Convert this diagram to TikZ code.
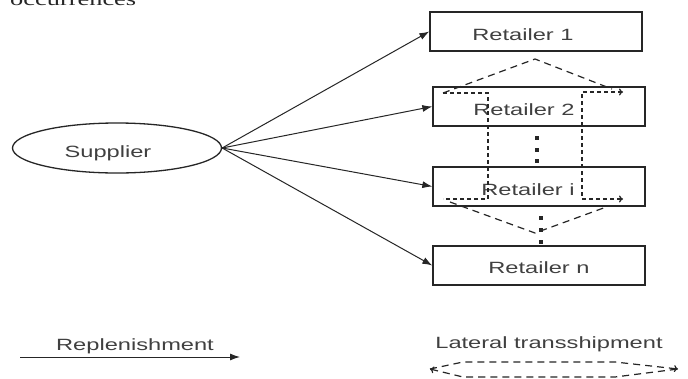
\documentclass[tikz,border=0pt]{standalone}
\usepackage{fontspec}
\setmainfont{Liberation Sans}
\newfontfamily\labfont[FakeStretch=1.45]{Liberation Sans}
\newfontfamily\serfont[FakeStretch=1.45]{Liberation Serif}
\usetikzlibrary{shapes.geometric,arrows.meta}
\definecolor{ink}{HTML}{262626}
\definecolor{txt}{HTML}{404040}
\begin{document}
\begin{tikzpicture}[x=1pt,y=-1pt,
  lbl/.style={font=\labfont\fontsize{16.3}{18}\selectfont, text=txt, inner sep=0pt, anchor=base},
  box/.style={draw=ink, line width=1.3pt, rectangle, inner sep=0pt, minimum width=212pt, minimum height=39pt},
  repl/.style={draw=ink, line width=1pt, -{Latex[length=10pt,width=7pt]}},
  lat/.style={draw=ink, line width=1.2pt, dash pattern=on 7pt off 5pt},
  vlat/.style={draw=ink, line width=1.3pt, dash pattern=on 4pt off 3pt},
  tipR/.style={-{To[length=4pt,width=7pt]}},
  tipL/.style={{To[length=4pt,width=7pt]}-},
  tipLR/.style={{To[length=4pt,width=7pt]}-{To[length=4pt,width=7pt]}},
  dotsq/.style={fill=ink, rectangle, minimum width=4pt, minimum height=3.5pt, inner sep=0pt}]
\useasboundingbox (0,0) rectangle (688,378);
\fill[white] (0,0) rectangle (688,378);
\clip (0,0) rectangle (688,378);

% cut-off text at the top
\node[font=\serfont\fontsize{18.2}{20}\selectfont, text=black!85, inner sep=0pt, anchor=base west] (occ) at (10,5) {occurrences};

% supplier
\node[draw=ink, line width=1.3pt, ellipse, minimum width=209pt, minimum height=50pt, inner sep=0pt] (sup) at (117,148) {};
\node[lbl] (tsup) at (108,157) {Supplier};

% retailers
\node[box] (r1) at (536,31.5) {};
\node[box] (r2) at (539,106.5) {};
\node[box] (ri) at (539,186.5) {};
\node[box] (rn) at (539,265.5) {};
\node[lbl] (t1) at (523,40) {Retailer 1};
\node[lbl] (t2) at (524,115) {Retailer 2};
\node[lbl] (ti) at (528,195) {Retailer i};
\node[lbl] (tn) at (539,273) {Retailer n};

% replenishment arrows
\draw[repl] (sup.east) -- (r1.west);
\draw[repl] (sup.east) -- (r2.west);
\draw[repl] (sup.east) -- (ri.west);
\draw[repl] (sup.east) -- (rn.west);

% lateral transshipment paths
\coordinate (tl) at (443,93);
\coordinate (apexT) at (535,59);
\coordinate (trd) at (612,89);
\coordinate (lc1) at (488,93);
\coordinate (lc2) at (488,199);
\coordinate (bl) at (443,199);
\coordinate (rt) at (623,92);
\coordinate (rc1) at (582,92);
\coordinate (rc2) at (582,199);
\coordinate (rb) at (623,199);
\coordinate (bld) at (450,202);
\coordinate (apexB) at (535,233);
\coordinate (brd) at (609,206);

\draw[lat] (tl) -- (apexT) -- (trd);
\draw[vlat] (tl) -- (lc1) -- (lc2) -- (bl);
\draw[vlat, tipLR] (rt) -- (rc1) -- (rc2) -- (rb);
\draw[lat] (bld) -- (apexB) -- (brd);

% vertical dots
\foreach \y [count=\k] in {138,150,161} \node[dotsq] (da\k) at (537,\y) {};
\foreach \y [count=\k] in {218,230,242} \node[dotsq] (db\k) at (541,\y) {};

% legend
\coordinate (la) at (20,357);
\coordinate (lb) at (240,357);
\draw[repl] (la) -- (lb);
\node[lbl] (trep) at (135,350) {Replenishment};

\node[lbl] (tlat) at (549,348) {Lateral transshipment};
\coordinate (gL) at (430,369);
\coordinate (gTL) at (463,362);
\coordinate (gTR) at (615,362);
\coordinate (gR) at (678,369);
\coordinate (gBR) at (615,377);
\coordinate (gBL) at (463,377);
\draw[lat, tipR] (gL) -- (gTL) -- (gTR) -- (gR);
\draw[lat, tipL] (gL) -- (gBL) -- (gBR) -- (gR);
\end{tikzpicture}
\end{document}
